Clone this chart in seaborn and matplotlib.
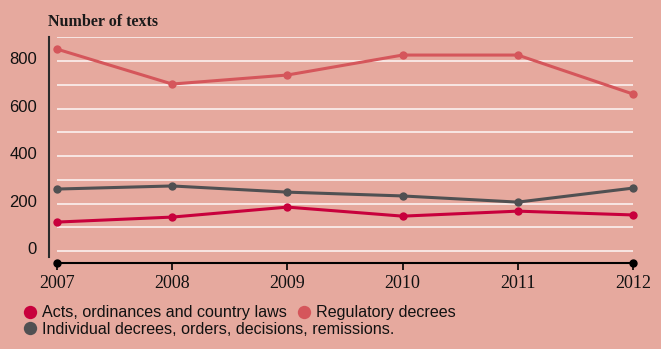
import matplotlib.pyplot as plt
from matplotlib.lines import Line2D
from matplotlib.transforms import ScaledTranslation
import pandas as pd
import seaborn as sns

# values
years = [2007, 2008, 2009, 2010, 2011, 2012]
acts = [122, 143, 185, 147, 168, 152]
regulatory = [850, 703, 741, 825, 825, 661]
individual = [261, 274, 248, 232, 206, 265]
series_names = ['Acts, ordinances and country laws',
                'Regulatory decrees',
                'Individual decrees, orders, decisions, remissions.']
y_ticks = [0, 200, 400, 600, 800]
grid_levels = [0, 100, 200, 300, 400, 500, 600, 700, 800, 900]

bg = '#E6A99E'
colors = ['#C8003C', '#D5565B', '#505052']
palette = dict(zip(series_names, colors))

df = pd.DataFrame({
    'year': years * 3,
    'count': acts + regulatory + individual,
    'series': [name for name in series_names for _ in years],
})

sns.set_theme(style='white')
plt.rcParams['font.family'] = ['Liberation Sans', 'DejaVu Sans']

fig = plt.figure(figsize=(6.61, 3.49), dpi=100, facecolor=bg)
ax = fig.add_axes([49 / 661, 1 - 257 / 349, 591 / 661, 220 / 349])
ax.set_facecolor(bg)

# white guide lines, only across the year span
ax.hlines(grid_levels, years[0], years[-1], color='white', lw=1.1, alpha=0.9, zorder=1)

sns.lineplot(data=df, x='year', y='count', hue='series', palette=palette,
             hue_order=series_names, marker='o', markersize=6, markeredgewidth=0,
             linewidth=2.2, errorbar=None, legend=False, ax=ax, zorder=3)

ax.set_xlim(2006.9306, 2012.061)
ax.set_ylim(-25, 901)
ax.set_xlabel('')
ax.set_ylabel('')

for side in ['top', 'right']:
    ax.spines[side].set_visible(False)
ax.spines['left'].set_color('#2b2b2b')
ax.spines['left'].set_linewidth(1.5)
ax.spines['bottom'].set_position(('data', -50))
ax.spines['bottom'].set_bounds(years[0], years[-1])
ax.spines['bottom'].set_color('black')
ax.spines['bottom'].set_linewidth(1.5)

ax.set_xticks(years)
ax.set_xticklabels([str(y) for y in years], fontfamily='Liberation Serif', fontsize=13)
ax.tick_params(axis='x', length=5, width=1.2, direction='out', color='black', pad=4,
               labelcolor='#111111', bottom=True)
ax.set_yticks(y_ticks)
ax.set_yticklabels([str(v) for v in y_ticks], fontsize=12)
ax.tick_params(axis='y', length=0, pad=8.6, labelcolor='#111111')
# labels sit a little above their guide lines
shift = ScaledTranslation(0, 3 / 100, fig.dpi_scale_trans)
for lab in ax.get_yticklabels():
    lab.set_transform(lab.get_transform() + shift)

# end dots on the time axis
ax.plot([years[0], years[-1]], [-50, -50], 'o', color='black', ms=5, clip_on=False, zorder=5)

fig.text(48 / 661, 1 - 26 / 349, 'Number of texts', fontfamily='Liberation Serif',
         fontweight='bold', fontsize=11.5, color='#1a1a1a', va='baseline')

def handle(c):
    return Line2D([], [], linestyle='none', marker='o', markersize=9.6,
                  markeredgewidth=0, color=c)

leg_kw = dict(loc='center left', frameon=False, fontsize=11.6, borderpad=0,
              borderaxespad=0, handlelength=1.0, handletextpad=0.25,
              columnspacing=0.55, labelcolor='#111111')
fig.legend(handles=[handle(colors[0]), handle(colors[1])],
           labels=series_names[:2], ncol=2,
           bbox_to_anchor=(22.0 / 661, 1 - 313 / 349), **leg_kw)
fig.legend(handles=[handle(colors[2])], labels=series_names[2:],
           bbox_to_anchor=(22.0 / 661, 1 - 329 / 349), **leg_kw)

fig.savefig('out.png', dpi=100, facecolor=bg)
